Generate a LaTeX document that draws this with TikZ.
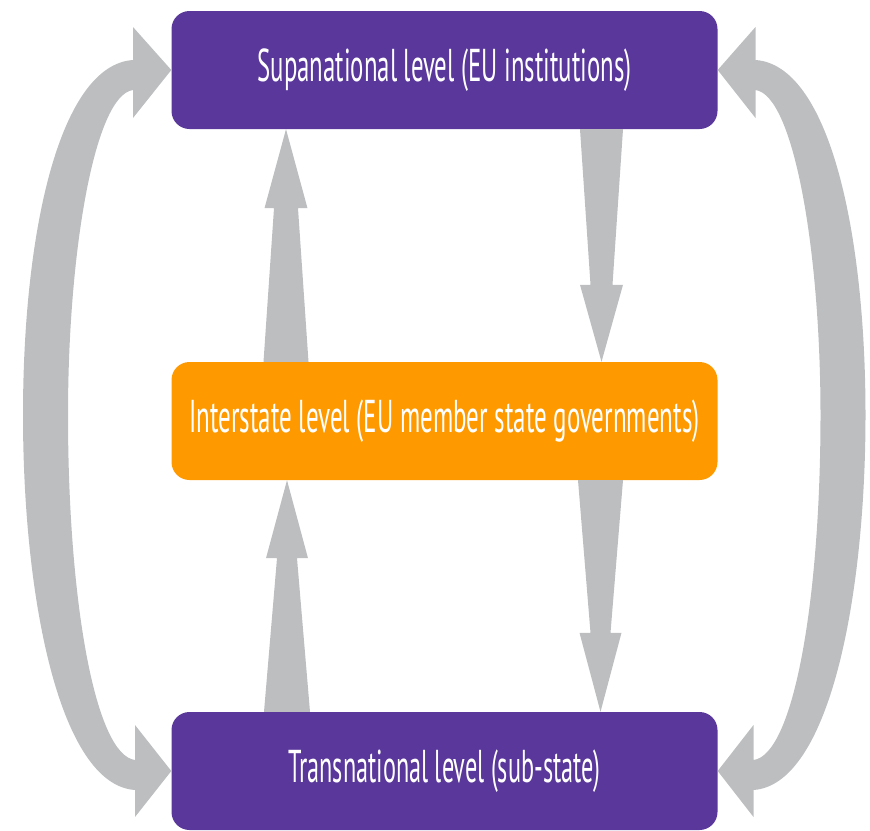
\documentclass[tikz,border=0pt]{standalone}
\usepackage{fontspec}
\setmainfont{PT Sans}
\usetikzlibrary{calc}
\definecolor{eupurple}{RGB}{89,55,155}
\definecolor{euorange}{RGB}{255,153,0}
\definecolor{flowgray}{RGB}{188,190,192}
\tikzset{
  levelbox/.style={rounded corners=18pt, minimum width=546pt, minimum height=118pt, inner sep=0pt, text=white},
  purplebox/.style={levelbox, fill=eupurple},
  orangebox/.style={levelbox, fill=euorange},
  flow/.style={fill=flowgray, draw=none}
}
\newcommand\boxtext[2]{\resizebox{#1}{\height}{\fontsize{46}{50}\selectfont #2}}
% #1 start, #2 tip, #3 half base width, #4 half neck width, #5 half head width, #6 head length
\newcommand\fatarrow[6]{%
  \coordinate (hb) at ($(#2)!#6!(#1)$);
  \fill[flow] ($(#1)!#3!90:(#2)$) -- ($(hb)!#4!90:(#2)$) -- ($(hb)!#5!90:(#2)$) -- (#2)
    -- ($(hb)!#5!-90:(#2)$) -- ($(hb)!#4!-90:(#2)$) -- ($(#1)!#3!-90:(#2)$) -- cycle;
}
\begin{document}
\begin{tikzpicture}[x=1pt,y=-1pt]
\useasboundingbox (0,0) rectangle (870,830);
\node[purplebox] (top) at (444.5,70) {\boxtext{374pt}{Supanational level (EU institutions)}};
\node[orangebox] (mid) at (444.5,421) {\boxtext{510pt}{Interstate level (EU member state governments)}};
\node[purplebox] (bot) at (444.5,771) {\boxtext{312pt}{Transnational level (sub-state)}};

% straight arrows
\coordinate (a1s) at ([xshift=-158.5pt]mid.north);
\coordinate (a1e) at ([xshift=-158.5pt]top.south);
\fatarrow{a1s}{a1e}{22.5pt}{12pt}{21.5pt}{79pt}
\coordinate (a2s) at ([xshift=157pt]top.south);
\coordinate (a2e) at ([xshift=157pt]mid.north);
\fatarrow{a2s}{a2e}{21.5pt}{11pt}{21.5pt}{77pt}
\coordinate (a3s) at ([xshift=-157.5pt]bot.north);
\coordinate (a3e) at ([xshift=-157.5pt]mid.south);
\fatarrow{a3s}{a3e}{23pt}{10pt}{21pt}{78pt}
\coordinate (a4s) at ([xshift=156pt]mid.south);
\coordinate (a4e) at ([xshift=156pt]bot.north);
\fatarrow{a4s}{a4e}{22.5pt}{10pt}{21pt}{79pt}

% left curved double arrow
\fill[flow] (top.west) -- (133,118) -- (133,90)
  .. controls (95,95) and (68,250) .. (68,415)
  .. controls (68,600) and (95,755) .. (135,760)
  -- (135,725) -- (bot.west) -- (135,817) -- (135,790)
  .. controls (60,785) and (23,600) .. (23,415)
  .. controls (23,230) and (60,65) .. (133,60)
  -- (133,27) -- cycle;

% right curved double arrow
\fill[flow] (top.east) -- (755.5,118) -- (755.5,90)
  .. controls (793.5,95) and (820.5,250) .. (820.5,415)
  .. controls (820.5,600) and (793.5,755) .. (753.5,760)
  -- (753.5,725) -- (bot.east) -- (753.5,817) -- (753.5,790)
  .. controls (828.5,785) and (865.5,600) .. (865.5,415)
  .. controls (865.5,230) and (828.5,65) .. (755.5,60)
  -- (755.5,27) -- cycle;
\end{tikzpicture}
\end{document}
